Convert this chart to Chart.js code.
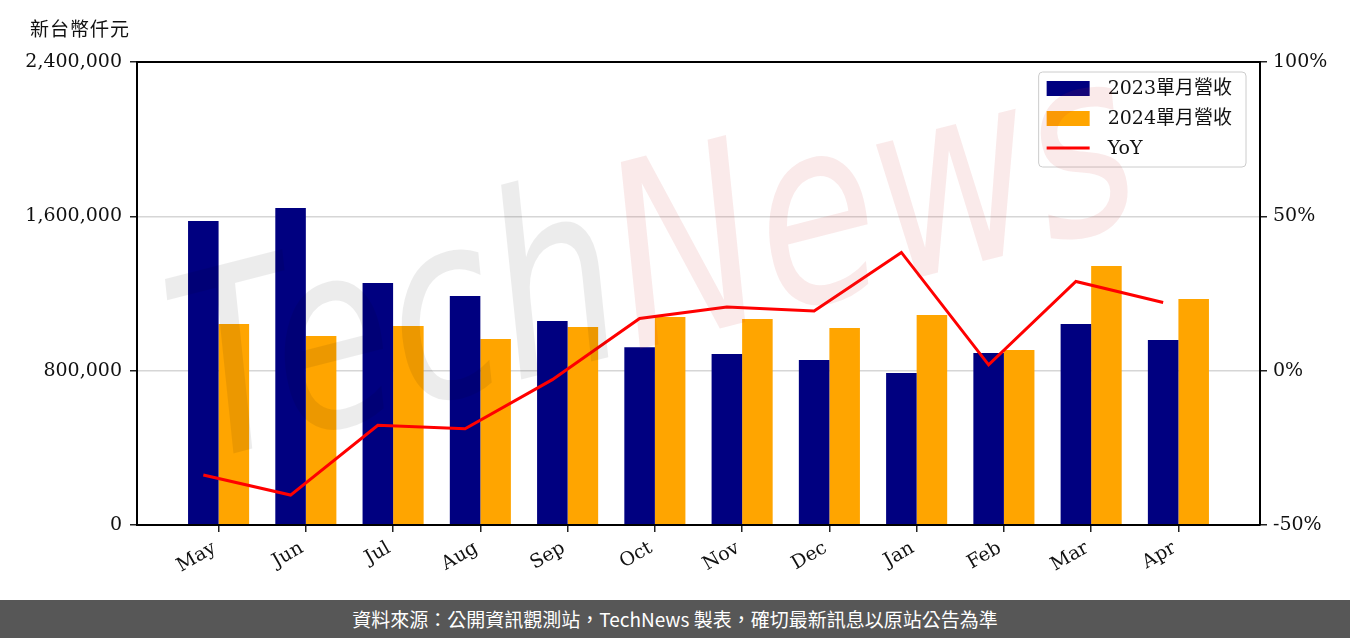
<!DOCTYPE html>
<html>
<head>
<meta charset="utf-8">
<script src="https://cdn.jsdelivr.net/npm/chart.js@4.4.1/dist/chart.umd.min.js"></script>
<style>
  html, body { margin: 0; padding: 0; background: #fff; }
  body { width: 1350px; height: 638px; position: relative; overflow: hidden; }
  #wrap { position: absolute; left: 0; top: 0; width: 1350px; height: 600px; }
  #unit { position: absolute; left: 30px; top: 14px; font: 19px "Noto Sans CJK TC", sans-serif; color: #111; letter-spacing: 1px; }
  #banner { position: absolute; left: 0; top: 600px; width: 1350px; height: 38px; background: #575757;
            color: #fff; font: 19px "Noto Sans CJK TC", sans-serif; text-align: center; line-height: 38px; }
</style>
</head>
<body>
<div id="wrap"><canvas id="c"></canvas></div>
<div id="unit">新台幣仟元</div>
<div id="banner">資料來源：公開資訊觀測站，TechNews 製表，確切最新訊息以原站公告為準</div>
<script>
const months = ['May','Jun','Jul','Aug','Sep','Oct','Nov','Dec','Jan','Feb','Mar','Apr'];
const rev2023 = [1576000, 1643000, 1254000, 1187000, 1057000, 922000, 886000, 855000, 788000, 891000, 1042000, 959000];
const rev2024 = [1042000, 980000, 1032000, 964000, 1026000, 1078000, 1068000, 1021000, 1089000, 907000, 1343000, 1172000];
const yoy = [-33.8, -40.3, -17.7, -18.8, -2.9, 16.9, 20.6, 19.3, 38.3, 1.9, 28.9, 22.1];
const leftTicks = [0, 800000, 1600000, 2400000];
const rightTicks = [-50, 0, 50, 100];
const seriesNames = ['2023單月營收', '2024單月營收', 'YoY'];

const serif = "'DejaVu Serif', 'Noto Sans CJK TC', serif";
const BAR_W = 0.35;

const legendPlugin = {
  id: 'boxLegend',
  afterDraw(chart) {
    const ctx = chart.ctx, ca = chart.chartArea;
    ctx.save();
    ctx.font = '19px ' + serif;
    const tw = Math.max(...seriesNames.map(s => ctx.measureText(s).width));
    const right = ca.right - 14, top = ca.top + 10;
    const w = 8 + 43 + 18 + tw + 14, h = 95;
    const left = right - w;
    ctx.beginPath();
    ctx.roundRect(left, top, w, h, 4);
    ctx.fillStyle = 'rgba(255,255,255,0.8)';
    ctx.fill();
    ctx.strokeStyle = '#cccccc';
    ctx.lineWidth = 1;
    ctx.stroke();
    const ds = chart.data.datasets;
    [0, 1, 2].forEach((k, i) => {
      const cy = top + 16 + i * 30;
      const d = ds[k];
      if (d.type === 'line') {
        ctx.strokeStyle = d.borderColor;
        ctx.lineWidth = 3;
        ctx.beginPath();
        ctx.moveTo(left + 8, cy); ctx.lineTo(left + 51, cy);
        ctx.stroke();
      } else {
        ctx.fillStyle = d.backgroundColor;
        ctx.fillRect(left + 8, cy - 7, 43, 15);
      }
      ctx.fillStyle = '#111';
      ctx.textBaseline = 'middle';
      ctx.textAlign = 'left';
      ctx.fillText(d.label, left + 69, cy + 1);
    });
    ctx.restore();
  }
};

const watermarkPlugin = {
  id: 'watermark',
  afterDraw(chart) {
    const ctx = chart.ctx;
    ctx.save();
    ctx.translate(200, 462);
    ctx.rotate(-14.4 * Math.PI / 180);
    ctx.font = "italic 255px 'DejaVu Sans'";
    ctx.textBaseline = 'alphabetic';
    ctx.textAlign = 'left';
    const w1 = ctx.measureText('Tech').width, w2 = ctx.measureText('News').width;
    const sx = 980 / (w1 + w2);
    ctx.scale(sx, 1);
    ctx.fillStyle = 'rgba(0,0,0,0.075)';
    ctx.fillText('Tech', 0, 0);
    ctx.fillStyle = 'rgba(205,47,47,0.10)';
    ctx.fillText('News', w1, 0);
    ctx.restore();
  }
};

const tickFont = { family: serif, size: 19 };

new Chart(document.getElementById('c'), {
  data: {
    datasets: [
      { type: 'bar', label: seriesNames[0], data: months.map((m, i) => ({ x: i, y: rev2023[i] })),
        backgroundColor: '#000080', xAxisID: 'x', yAxisID: 'y', order: 2,
        categoryPercentage: BAR_W * 2, barPercentage: 1.0 },
      { type: 'bar', label: seriesNames[1], data: months.map((m, i) => ({ x: i, y: rev2024[i] })),
        backgroundColor: '#FFA500', xAxisID: 'x', yAxisID: 'y', order: 2,
        categoryPercentage: BAR_W * 2, barPercentage: 1.0 },
      { type: 'line', label: seriesNames[2], data: months.map((m, i) => ({ x: i - BAR_W / 2, y: yoy[i] })),
        borderColor: '#FF0000', borderWidth: 3, pointRadius: 0, tension: 0, fill: false,
        xAxisID: 'x', yAxisID: 'y2', order: 0 }
    ]
  },
  options: {
    responsive: true,
    maintainAspectRatio: false,
    animation: false,
    layout: { padding: { top: 62, left: 0, right: 0, bottom: 0 } },
    plugins: { legend: { display: false }, tooltip: { enabled: false }, title: { display: false } },
    scales: {
      x: {
        type: 'linear', position: 'bottom', min: -0.935, max: 11.935, offset: false,
        afterBuildTicks: s => { s.ticks = months.map((m, i) => ({ value: i })); },
        afterFit: s => { s.height = 75; },
        ticks: { autoSkip: false, minRotation: 30, maxRotation: 30, font: tickFont, color: '#111', padding: 5,
                 labelOffset: -4, callback: v => months[v] },
        grid: { offset: false, drawOnChartArea: false, drawTicks: true, tickLength: 7, tickColor: '#222', lineWidth: 1.5 },
        border: { display: true, color: '#000', width: 2, z: 1 }
      },
      xTop: {
        type: 'linear', position: 'top', min: 0, max: 1,
        afterFit: s => { s.height = 0; },
        ticks: { display: false },
        grid: { display: false, drawTicks: false },
        border: { display: true, color: '#000', width: 2, z: 1 }
      },
      y: {
        type: 'linear', position: 'left', min: 0, max: 2400000,
        afterBuildTicks: s => { s.ticks = leftTicks.map(v => ({ value: v })); },
        afterFit: s => { s.width = 137; },
        ticks: { font: tickFont, color: '#111', padding: 8, callback: v => v.toLocaleString('en-US') },
        grid: { color: '#d6d6d6', lineWidth: 1.5, tickLength: 7, tickColor: '#222' },
        border: { display: true, color: '#000', width: 2, z: 1 }
      },
      y2: {
        type: 'linear', position: 'right', min: -50, max: 100,
        afterBuildTicks: s => { s.ticks = rightTicks.map(v => ({ value: v })); },
        afterFit: s => { s.width = 90; },
        ticks: { font: tickFont, color: '#111', padding: 6, callback: v => v + '%' },
        grid: { drawOnChartArea: false, lineWidth: 1.5, tickLength: 7, tickColor: '#222' },
        border: { display: true, color: '#000', width: 2, z: 1 }
      }
    }
  },
  plugins: [legendPlugin, watermarkPlugin]
});
</script>
</body>
</html>
